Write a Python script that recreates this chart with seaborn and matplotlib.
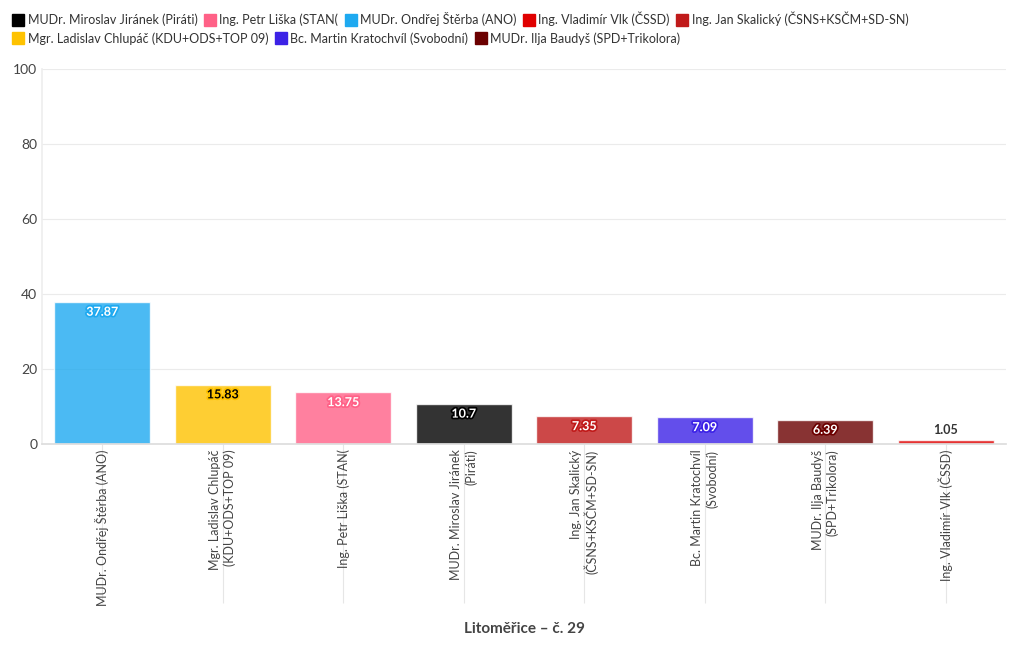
import matplotlib
matplotlib.use("Agg")
import matplotlib.pyplot as plt
import matplotlib.patheffects as pe
from matplotlib.lines import Line2D
import seaborn as sns

# candidates in order of result
names = ['MUDr. Ondřej Štěrba (ANO)', 'Mgr. Ladislav Chlupáč (KDU+ODS+TOP 09)',
         'Ing. Petr Liška (STAN(', 'MUDr. Miroslav Jiránek (Piráti)',
         'Ing. Jan Skalický (ČSNS+KSČM+SD-SN)', 'Bc. Martin Kratochvíl (Svobodní)',
         'MUDr. Ilja Baudyš (SPD+Trikolora)', 'Ing. Vladimír Vlk (ČSSD)']
tick_labels = ['MUDr. Ondřej Štěrba (ANO)', 'Mgr. Ladislav Chlupáč\n(KDU+ODS+TOP 09)',
               'Ing. Petr Liška (STAN(', 'MUDr. Miroslav Jiránek\n(Piráti)',
               'Ing. Jan Skalický\n(ČSNS+KSČM+SD-SN)', 'Bc. Martin Kratochvíl\n(Svobodní)',
               'MUDr. Ilja Baudyš\n(SPD+Trikolora)', 'Ing. Vladimír Vlk (ČSSD)']
values = [37.87, 15.83, 13.75, 10.7, 7.35, 7.09, 6.39, 1.05]
colors = ['#1ea9f0', '#fec200', '#ff6187', '#000000', '#c01a1a', '#3c22e6', '#6b0000', '#e00000']
label_colors = ['white', 'black', 'white', 'white', 'white', 'white', 'white', '#333333']

# legend order as in the source
legend_row1 = ['MUDr. Miroslav Jiránek (Piráti)', 'Ing. Petr Liška (STAN(', 'MUDr. Ondřej Štěrba (ANO)',
               'Ing. Vladimír Vlk (ČSSD)', 'Ing. Jan Skalický (ČSNS+KSČM+SD-SN)']
legend_row2 = ['Mgr. Ladislav Chlupáč (KDU+ODS+TOP 09)', 'Bc. Martin Kratochvíl (Svobodní)',
               'MUDr. Ilja Baudyš (SPD+Trikolora)']
xtitle = 'Litoměřice – č. 29'

sns.set_theme(style='white')
plt.rcParams['font.family'] = ['Lato', 'DejaVu Sans']

fig = plt.figure(figsize=(10.2, 6.5), dpi=100)
ax = fig.add_axes([0.0412, 0.3169, 0.9451, 0.5769])

palette = dict(zip(names, colors))
sns.barplot(x=names, y=values, hue=names, palette=palette, saturation=1, alpha=0.8,
            width=0.8, legend=False, ax=ax, zorder=2)

ax.set_ylim(0, 100)
ax.set_xlim(-0.5, len(names) - 0.5)
ax.set_yticks(range(0, 101, 20))
ax.yaxis.grid(True, color='#ebebeb', linewidth=0.8, zorder=0)
ax.tick_params(axis='both', length=0, colors='#444444', labelsize=10)
ax.tick_params(axis='x', pad=4)
ax.set_xticks(range(len(names)))
ax.set_xticklabels(tick_labels, rotation=90, fontsize=9, color='#444444',
                   multialignment='right', va='top', ha='center')
for s in ['top', 'right']:
    ax.spines[s].set_visible(False)
ax.spines['left'].set_color('#eeeeee')
ax.spines['bottom'].set_color('#dddddd')

# thin category lines under the axis
ax.vlines(range(len(names)), -0.425, 0, transform=ax.get_xaxis_transform(),
          colors='#e6e6e6', linewidth=0.8, clip_on=False, zorder=0)

# value labels
for i, (v, c, lc) in enumerate(zip(values, colors, label_colors)):
    if v < 3:
        ax.annotate(f'{v:g}', (i, v), xytext=(0, 7), textcoords='offset points',
                    ha='center', va='center', fontsize=9, fontweight='bold', color=lc)
    else:
        ax.annotate(f'{v:g}', (i, v), xytext=(0, -7), textcoords='offset points',
                    ha='center', va='center', fontsize=9, fontweight='bold', color=lc,
                    path_effects=[pe.withStroke(linewidth=2.5, foreground=c)])

ax.set_xlabel(xtitle, fontsize=11, fontweight='bold', color='#444444')
ax.xaxis.set_label_coords(0.5, -0.475)

def handles(labels):
    return [Line2D([], [], marker='s', linestyle='none', markersize=9,
                   markerfacecolor=palette[n], markeredgecolor=palette[n]) for n in labels]

leg_kw = dict(frameon=False, fontsize=9, handletextpad=0.35, columnspacing=0.6,
              handlelength=0.8, borderaxespad=0, labelcolor='#333333')
fig.legend(handles(legend_row1), legend_row1, ncol=5, loc='center left',
           bbox_to_anchor=(0.008, 0.971), **leg_kw)
fig.legend(handles(legend_row2), legend_row2, ncol=3, loc='center left',
           bbox_to_anchor=(0.008, 0.941), **leg_kw)

fig.savefig('out.png', dpi=100)
